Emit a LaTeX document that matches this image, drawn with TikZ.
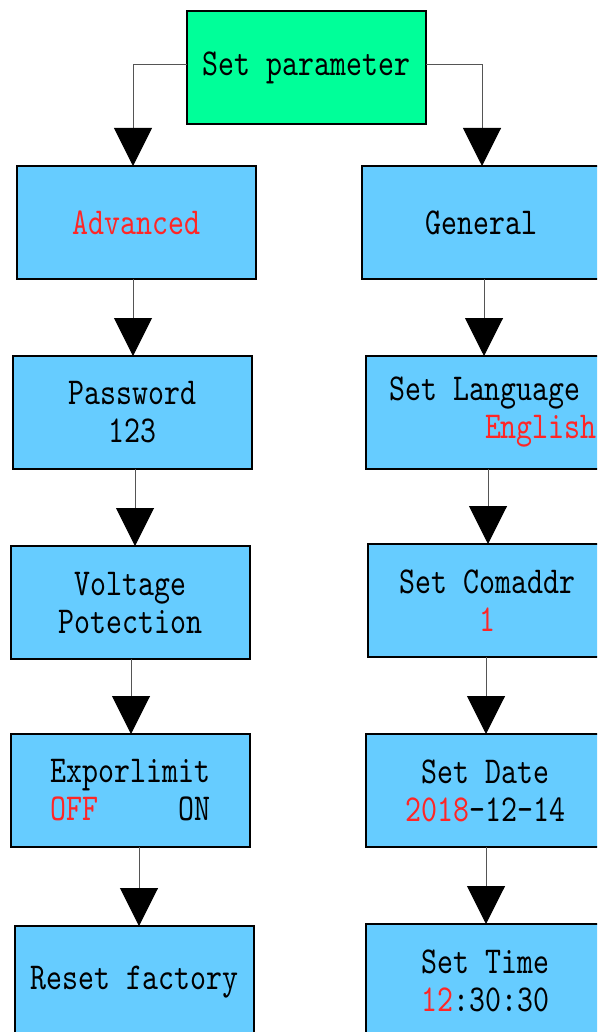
\documentclass[tikz,border=0pt]{standalone}
\usepackage{fontspec}
\usetikzlibrary{arrows.meta}
\newfontfamily\boxmono{lmmono10-regular.otf}[FakeStretch=0.8]
\definecolor{boxblue}{HTML}{66CCFF}
\definecolor{boxgreen}{HTML}{00FF99}
\definecolor{txtred}{HTML}{FF2626}
\definecolor{linegray}{HTML}{555555}
\tikzset{
  boxbase/.style={draw=black, line width=1.5pt, anchor=north west, minimum width=239pt,
    minimum height=113pt, inner sep=0pt, outer sep=0pt, align=center,
    font=\boxmono\fontsize{38}{38}\selectfont},
  bluebox/.style={boxbase, fill=boxblue},
  greenbox/.style={boxbase, fill=boxgreen},
  conn/.style={draw=linegray, line width=1pt, -{Triangle[length=38pt,width=38pt,fill=black,color=black]}}
}
\newcommand{\rd}[1]{\textcolor{txtred}{#1}}
\begin{document}
\begin{tikzpicture}[x=1pt,y=-1pt]
\useasboundingbox (0,0) rectangle (597,1032);
\clip (0,0) rectangle (597,1032);
\fill[white] (0,0) rectangle (597,1032);
% boxes
\node[greenbox] (sp) at (187,11) {Set parameter};
\node[bluebox] (adv) at (17,166) {\rd{Advanced}};
\node[bluebox] (gen) at (362,166) {General};
\node[bluebox] (pw) at (13,356) {Password\\123};
\node[bluebox, align=left] (lang) at (366,356) {\hspace*{15pt}Set Language\\\hspace*{15pt}\phantom{SetLan}\rd{English}};
\node[bluebox] (volt) at (11,546) {Voltage\\Potection};
\node[bluebox] (com) at (368,544) {Set Comaddr\\\rd{1}};
\node[bluebox] (exp) at (11,734) {Exporlimit\\\rd{OFF}\phantom{xxxxx}ON};
\node[bluebox] (date) at (366,734) {Set Date\\\rd{2018}-12-14};
\node[bluebox] (reset) at (15,926) {Reset factory};
\node[bluebox] (time) at (366,924) {Set Time\\\rd{12}:30:30};
% connectors
\draw[conn] (sp.west |- 0,65) -| (adv.north -| 133,0);
\draw[conn] (sp.east |- 0,65) -| (gen.north -| 482,0);
\draw[conn] (adv.south -| 133,0) -- (pw.north -| 133,0);
\draw[conn] (pw.south -| 135,0) -- (volt.north -| 135,0);
\draw[conn] (volt.south -| 131,0) -- (exp.north -| 131,0);
\draw[conn] (exp.south -| 139,0) -- (reset.north -| 139,0);
\draw[conn] (gen.south -| 484,0) -- (lang.north -| 484,0);
\draw[conn] (lang.south -| 488,0) -- (com.north -| 488,0);
\draw[conn] (com.south -| 486,0) -- (date.north -| 486,0);
\draw[conn] (date.south -| 486,0) -- (time.north -| 486,0);
\end{tikzpicture}
\end{document}
